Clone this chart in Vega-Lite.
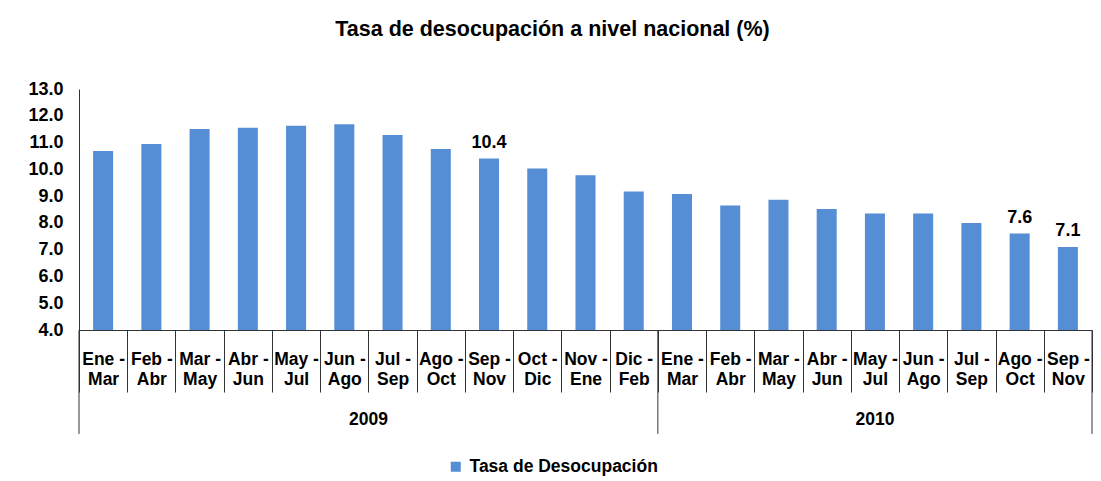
{
  "$schema": "https://vega.github.io/schema/vega-lite/v6.json",
  "width": 1013,
  "height": 241,
  "autosize": "none",
  "padding": {"left": 79, "top": 89, "right": 9, "bottom": 151},
  "background": "white",
  "config": {"font": "Liberation Sans", "view": {"stroke": null}},
  "title": {"text": "Tasa de desocupación a nivel nacional (%)", "fontSize": 21.5, "fontWeight": "bold", "color": "black", "anchor": "middle", "frame": "group", "dx": -33, "offset": 40},
  "datasets": {
    "tasa": [
      {"periodo": "Ene-Mar 2009", "anio": "2009", "tasa": 10.68},
      {"periodo": "Feb-Abr 2009", "anio": "2009", "tasa": 10.95},
      {"periodo": "Mar-May 2009", "anio": "2009", "tasa": 11.51},
      {"periodo": "Abr-Jun 2009", "anio": "2009", "tasa": 11.55},
      {"periodo": "May-Jul 2009", "anio": "2009", "tasa": 11.63},
      {"periodo": "Jun-Ago 2009", "anio": "2009", "tasa": 11.68},
      {"periodo": "Jul-Sep 2009", "anio": "2009", "tasa": 11.28},
      {"periodo": "Ago-Oct 2009", "anio": "2009", "tasa": 10.76},
      {"periodo": "Sep-Nov 2009", "anio": "2009", "tasa": 10.4},
      {"periodo": "Oct-Dic 2009", "anio": "2009", "tasa": 10.03},
      {"periodo": "Nov-Ene 2009", "anio": "2009", "tasa": 9.78},
      {"periodo": "Dic-Feb 2009", "anio": "2009", "tasa": 9.17},
      {"periodo": "Ene-Mar 2010", "anio": "2010", "tasa": 9.08},
      {"periodo": "Feb-Abr 2010", "anio": "2010", "tasa": 8.65},
      {"periodo": "Mar-May 2010", "anio": "2010", "tasa": 8.86},
      {"periodo": "Abr-Jun 2010", "anio": "2010", "tasa": 8.52},
      {"periodo": "May-Jul 2010", "anio": "2010", "tasa": 8.35},
      {"periodo": "Jun-Ago 2010", "anio": "2010", "tasa": 8.35},
      {"periodo": "Jul-Sep 2010", "anio": "2010", "tasa": 8.0},
      {"periodo": "Ago-Oct 2010", "anio": "2010", "tasa": 7.6},
      {"periodo": "Sep-Nov 2010", "anio": "2010", "tasa": 7.1}
    ],
    "inicioAnio": [
      {"periodo": "Ene-Mar 2009"},
      {"periodo": "Ene-Mar 2010"}
    ],
    "finAnio": [
      {"periodo": "Sep-Nov 2010"}
    ],
    "etiqueta2009": [
      {"periodo": "Jul-Sep 2009", "anio": "2009"}
    ],
    "etiqueta2010": [
      {"periodo": "May-Jul 2010", "anio": "2010"}
    ]
  },
  "layer": [
    {
      "data": {"name": "tasa"},
      "mark": {"type": "bar", "width": {"band": 0.415}},
      "encoding": {
        "x": {
          "field": "periodo",
          "type": "nominal",
          "scale": {
            "domain": ["Ene-Mar 2009", "Feb-Abr 2009", "Mar-May 2009", "Abr-Jun 2009", "May-Jul 2009", "Jun-Ago 2009", "Jul-Sep 2009", "Ago-Oct 2009", "Sep-Nov 2009", "Oct-Dic 2009", "Nov-Ene 2009", "Dic-Feb 2009", "Ene-Mar 2010", "Feb-Abr 2010", "Mar-May 2010", "Abr-Jun 2010", "May-Jul 2010", "Jun-Ago 2010", "Jul-Sep 2010", "Ago-Oct 2010", "Sep-Nov 2010"],
            "paddingInner": 0,
            "paddingOuter": 0
          },
          "axis": {
            "title": null,
            "labelExpr": "isString(datum.value) ? [split(datum.value, '-')[0] + ' -', split(split(datum.value, '-')[1], ' ')[0]] : ''",
            "tickBand": "extent",
            "tickSize": 62,
            "tickColor": "#333333",
            "domainColor": "#333333",
            "labelPadding": -42,
            "labelFontSize": 17.5,
            "labelFontWeight": "bold",
            "labelColor": "black",
            "labelLineHeight": 20,
            "labelAngle": 0,
            "labelAlign": "center",
            "labelBaseline": "top",
            "labelOverlap": false,
            "labelBound": false,
            "labelFlush": false
          }
        },
        "y": {
          "field": "tasa",
          "type": "quantitative",
          "scale": {"domain": [4, 13], "zero": false, "nice": false},
          "axis": {
            "title": null,
            "values": [4, 5, 6, 7, 8, 9, 10, 11, 12, 13],
            "format": ".1f",
            "grid": false,
            "ticks": false,
            "tickSize": 0,
            "labelPadding": 16,
            "labelFontSize": 18,
            "labelFontWeight": "bold",
            "labelColor": "black",
            "domainColor": "#333333",
            "labelFlush": false,
            "labelOverlap": false
          }
        },
        "y2": {"datum": 4},
        "color": {
          "datum": "Tasa de Desocupación",
          "type": "nominal",
          "scale": {"range": ["#558ED5"]},
          "legend": {
            "title": null,
            "orient": "none",
            "legendX": 368,
            "legendY": 369,
            "symbolType": "square",
            "symbolSize": 100,
            "symbolStrokeWidth": 0,
            "labelFontSize": 17.5,
            "labelFontWeight": "bold",
            "labelColor": "black",
            "labelOffset": 5,
            "labelLimit": 400,
            "padding": 0
          }
        }
      }
    },
    {
      "data": {"name": "tasa"},
      "transform": [{"filter": {"field": "periodo", "oneOf": ["Sep-Nov 2009", "Ago-Oct 2010", "Sep-Nov 2010"]}}],
      "mark": {"type": "text", "baseline": "alphabetic", "dy": -11, "fontSize": 18, "fontWeight": "bold", "color": "black"},
      "encoding": {
        "x": {
          "field": "periodo", "type": "nominal",
          "axis": {
            "title": null,
            "labelExpr": "isString(datum.value) ? [split(datum.value, '-')[0] + ' -', split(split(datum.value, '-')[1], ' ')[0]] : ''",
            "tickBand": "extent", "tickSize": 62, "tickColor": "#333333", "domainColor": "#333333",
            "labelPadding": -42, "labelFontSize": 17.5, "labelFontWeight": "bold", "labelColor": "black",
            "labelLineHeight": 20, "labelAngle": 0, "labelAlign": "center", "labelBaseline": "top",
            "labelOverlap": false, "labelBound": false, "labelFlush": false
          }
        },
        "y": {
          "field": "tasa", "type": "quantitative",
          "axis": {
            "title": null, "values": [4, 5, 6, 7, 8, 9, 10, 11, 12, 13], "format": ".1f", "grid": false,
            "ticks": false, "tickSize": 0, "labelPadding": 16, "labelFontSize": 18, "labelFontWeight": "bold",
            "labelColor": "black", "domainColor": "#333333", "labelFlush": false, "labelOverlap": false
          }
        },
        "text": {"field": "tasa", "type": "quantitative", "format": ".1f"}
      }
    },
    {
      "data": {"name": "inicioAnio"},
      "mark": {"type": "rule", "color": "#333333", "strokeWidth": 1},
      "encoding": {
        "x": {
          "field": "periodo", "type": "nominal", "bandPosition": 0,
          "axis": {
            "title": null,
            "labelExpr": "isString(datum.value) ? [split(datum.value, '-')[0] + ' -', split(split(datum.value, '-')[1], ' ')[0]] : ''",
            "tickBand": "extent", "tickSize": 62, "tickColor": "#333333", "domainColor": "#333333",
            "labelPadding": -42, "labelFontSize": 17.5, "labelFontWeight": "bold", "labelColor": "black",
            "labelLineHeight": 20, "labelAngle": 0, "labelAlign": "center", "labelBaseline": "top",
            "labelOverlap": false, "labelBound": false, "labelFlush": false
          }
        },
        "y": {
          "datum": 4, "type": "quantitative",
          "axis": {
            "title": null, "values": [4, 5, 6, 7, 8, 9, 10, 11, 12, 13], "format": ".1f", "grid": false,
            "ticks": false, "tickSize": 0, "labelPadding": 16, "labelFontSize": 18, "labelFontWeight": "bold",
            "labelColor": "black", "domainColor": "#333333", "labelFlush": false, "labelOverlap": false
          }
        },
        "y2": {"datum": 0.12}
      }
    },
    {
      "data": {"name": "finAnio"},
      "mark": {"type": "rule", "color": "#333333", "strokeWidth": 1},
      "encoding": {
        "x": {
          "field": "periodo", "type": "nominal", "bandPosition": 1,
          "axis": {
            "title": null,
            "labelExpr": "isString(datum.value) ? [split(datum.value, '-')[0] + ' -', split(split(datum.value, '-')[1], ' ')[0]] : ''",
            "tickBand": "extent", "tickSize": 62, "tickColor": "#333333", "domainColor": "#333333",
            "labelPadding": -42, "labelFontSize": 17.5, "labelFontWeight": "bold", "labelColor": "black",
            "labelLineHeight": 20, "labelAngle": 0, "labelAlign": "center", "labelBaseline": "top",
            "labelOverlap": false, "labelBound": false, "labelFlush": false
          }
        },
        "y": {
          "datum": 4, "type": "quantitative",
          "axis": {
            "title": null, "values": [4, 5, 6, 7, 8, 9, 10, 11, 12, 13], "format": ".1f", "grid": false,
            "ticks": false, "tickSize": 0, "labelPadding": 16, "labelFontSize": 18, "labelFontWeight": "bold",
            "labelColor": "black", "domainColor": "#333333", "labelFlush": false, "labelOverlap": false
          }
        },
        "y2": {"datum": 0.12}
      }
    },
    {
      "data": {"name": "etiqueta2009"},
      "mark": {"type": "text", "baseline": "middle", "fontSize": 17.5, "fontWeight": "bold", "color": "black"},
      "encoding": {
        "x": {
          "field": "periodo", "type": "nominal", "bandPosition": 0,
          "axis": {
            "title": null,
            "labelExpr": "isString(datum.value) ? [split(datum.value, '-')[0] + ' -', split(split(datum.value, '-')[1], ' ')[0]] : ''",
            "tickBand": "extent", "tickSize": 62, "tickColor": "#333333", "domainColor": "#333333",
            "labelPadding": -42, "labelFontSize": 17.5, "labelFontWeight": "bold", "labelColor": "black",
            "labelLineHeight": 20, "labelAngle": 0, "labelAlign": "center", "labelBaseline": "top",
            "labelOverlap": false, "labelBound": false, "labelFlush": false
          }
        },
        "y": {
          "datum": 0.64, "type": "quantitative",
          "axis": {
            "title": null, "values": [4, 5, 6, 7, 8, 9, 10, 11, 12, 13], "format": ".1f", "grid": false,
            "ticks": false, "tickSize": 0, "labelPadding": 16, "labelFontSize": 18, "labelFontWeight": "bold",
            "labelColor": "black", "domainColor": "#333333", "labelFlush": false, "labelOverlap": false
          }
        },
        "text": {"field": "anio"}
      }
    },
    {
      "data": {"name": "etiqueta2010"},
      "mark": {"type": "text", "baseline": "middle", "fontSize": 17.5, "fontWeight": "bold", "color": "black"},
      "encoding": {
        "x": {
          "field": "periodo", "type": "nominal", "bandPosition": 0.5,
          "axis": {
            "title": null,
            "labelExpr": "isString(datum.value) ? [split(datum.value, '-')[0] + ' -', split(split(datum.value, '-')[1], ' ')[0]] : ''",
            "tickBand": "extent", "tickSize": 62, "tickColor": "#333333", "domainColor": "#333333",
            "labelPadding": -42, "labelFontSize": 17.5, "labelFontWeight": "bold", "labelColor": "black",
            "labelLineHeight": 20, "labelAngle": 0, "labelAlign": "center", "labelBaseline": "top",
            "labelOverlap": false, "labelBound": false, "labelFlush": false
          }
        },
        "y": {
          "datum": 0.64, "type": "quantitative",
          "axis": {
            "title": null, "values": [4, 5, 6, 7, 8, 9, 10, 11, 12, 13], "format": ".1f", "grid": false,
            "ticks": false, "tickSize": 0, "labelPadding": 16, "labelFontSize": 18, "labelFontWeight": "bold",
            "labelColor": "black", "domainColor": "#333333", "labelFlush": false, "labelOverlap": false
          }
        },
        "text": {"field": "anio"}
      }
    }
  ]
}
